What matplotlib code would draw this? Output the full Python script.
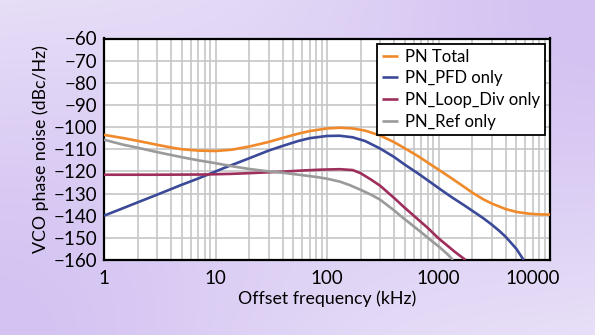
import matplotlib
matplotlib.use("Agg")
import matplotlib.pyplot as plt
import numpy as np
from matplotlib.transforms import ScaledTranslation

plt.rcParams["font.family"] = ["Lato", "DejaVu Sans"]

# datos (kHz, dBc/Hz)
f_total = [1, 1.5, 2, 3, 4, 5, 7, 10, 14, 20, 30, 40, 55, 70, 100, 130, 170, 220, 300, 400,
           500, 650, 800, 1000, 1300, 1700, 2000, 2500, 3000, 4000, 5000, 6500, 8000, 10000]
pn_total = [-103.5, -105.0, -106.2, -108.0, -109.2, -110.0, -110.6, -110.8, -110.2, -108.8,
            -106.7, -104.9, -103.0, -101.8, -100.6, -100.3, -100.6, -101.6, -103.8, -106.8,
            -109.6, -113.0, -116.0, -119.2, -123.0, -127.0, -129.5, -132.5, -134.5, -137.0,
            -138.3, -139.1, -139.4, -139.5]

f_pfd = [1, 1.5, 2, 3, 5, 7, 9, 12, 16, 20, 30, 40, 55, 70, 100, 130, 170, 220, 300, 400,
         500, 650, 800, 1000, 1300, 1700, 2000, 2500, 3000, 3500, 4000, 5000, 5800]
pn_pfd = [-140.0, -136.5, -134.0, -130.5, -126.0, -123.2, -121.0, -118.4, -116.0, -114.1,
          -110.6, -108.5, -106.3, -105.0, -104.0, -103.9, -104.6, -106.3, -109.7, -113.5,
          -117.0, -120.8, -124.0, -127.5, -131.5, -135.3, -137.7, -141.0, -144.0, -146.8,
          -149.5, -155.0, -160.0]

f_div = [1, 3, 8, 14, 20, 30, 40, 60, 90, 130, 170, 200, 250, 300, 400, 500, 600, 800,
         1000, 1200, 1400, 1750]
pn_div = [-121.5, -121.5, -121.4, -121.1, -120.8, -120.4, -120.1, -119.6, -119.2, -119.0,
          -119.4, -120.8, -123.8, -126.5, -132.0, -136.5, -140.0, -145.5, -150.2, -153.5,
          -156.3, -160.0]

f_ref = [1, 1.5, 2, 3, 5, 7, 10, 15, 20, 30, 40, 60, 80, 100, 130, 160, 200, 250, 300, 400,
         450, 550, 700, 850, 1000, 1200, 1350]
pn_ref = [-105.7, -108.0, -109.3, -111.3, -113.6, -115.0, -116.3, -117.9, -118.9, -120.0,
          -120.6, -121.7, -122.5, -123.3, -124.6, -126.2, -128.3, -130.6, -132.8, -137.6,
          -139.8, -143.3, -147.5, -151.0, -153.8, -157.3, -160.0]

series = [
    ("PN Total", f_total, pn_total, "#f0892a"),
    ("PN_PFD only", f_pfd, pn_pfd, "#3b4a98"),
    ("PN_Loop_Div only", f_div, pn_div, "#9e2f5c"),
    ("PN_Ref only", f_ref, pn_ref, "#9a9a9a"),
]

x_ticks = [1, 10, 100, 1000, 10000]
x_tick_labels = ["1", "10", "100", "1000", "10000"]
y_ticks = list(range(-160, -59, 10))

fig = plt.figure(figsize=(5.95, 3.35), dpi=100)

# fondo degradado lavanda
fondo = fig.add_axes([0, 0, 1, 1], zorder=-10)
xx, yy = np.meshgrid(np.linspace(0, 1, 300), np.linspace(1, 0, 170))
asp = 335 / 595
d1 = np.hypot(xx - 1.05, (yy - 1.05) * asp)
d2 = np.hypot(xx + 0.05, (yy + 0.05) * asp)
peso = np.clip(np.exp(-(d1 / 0.6) ** 2) + np.exp(-(d2 / 0.65) ** 2), 0, 1)
claro = np.array([248, 246, 252]) / 255
lila = np.array([212, 195, 242]) / 255
img = claro[None, None, :] * (1 - peso[..., None]) + lila[None, None, :] * peso[..., None]
fondo.imshow(img, aspect="auto", extent=[0, 1, 0, 1])
fondo.axis("off")

ax = fig.add_axes([104 / 595, 75 / 335, 446 / 595, 221.5 / 335])
ax.set_facecolor("white")

for nombre, f, pn, color in series:
    ax.plot(f, pn, color=color, lw=1.9, label=nombre, solid_joinstyle="round",
            solid_capstyle="butt", zorder=3)

ax.set_xscale("log")
ax.set_xlim(1, 10000)
ax.set_ylim(-160, -60)
ax.set_xticks(x_ticks)
ax.set_xticklabels(x_tick_labels)
ax.set_yticks(y_ticks)
ax.tick_params(axis="both", which="both", length=0, labelsize=13.5, pad=5)
ax.tick_params(axis="x", pad=7)

ax.grid(True, which="major", color="#c6c6c6", lw=1.2, zorder=0)
ax.grid(True, which="minor", axis="x", color="#c6c6c6", lw=1.2, zorder=0)
ax.set_axisbelow(True)

for sp in ax.spines.values():
    sp.set_linewidth(1.6)
    sp.set_color("black")

# la etiqueta 10000 esta corrida a la izquierda en el original
ultima = ax.get_xticklabels()[-1]
ultima.set_transform(ultima.get_transform() + ScaledTranslation(-0.17, 0, fig.dpi_scale_trans))

ax.set_xlabel("Offset frequency (kHz)", fontsize=12.8, labelpad=3)
ax.set_ylabel("VCO phase noise (dBc/Hz)", fontsize=12.8, labelpad=3)

leg = ax.legend(loc="upper right", fontsize=12, frameon=True, fancybox=False,
                edgecolor="black", framealpha=1, borderaxespad=0.3,
                handlelength=1.0, handletextpad=0.4, labelspacing=0.35,
                borderpad=0.3)
leg.get_frame().set_linewidth(1.3)

fig.savefig("out.png", dpi=100)
